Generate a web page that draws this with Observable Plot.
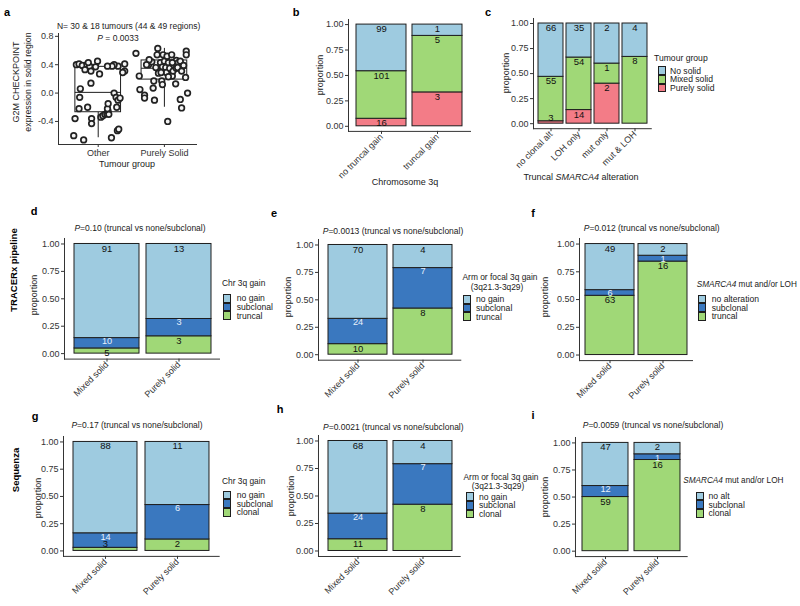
<!DOCTYPE html>
<html>
<head>
<meta charset="utf-8">
<script src="https://cdn.jsdelivr.net/npm/d3@7"></script>
<script src="https://cdn.jsdelivr.net/npm/@observablehq/plot@0.6"></script>
<style>
  html, body { margin: 0; padding: 0; background: white; }
  #chart { position: relative; width: 800px; height: 606px; overflow: hidden; background: white;
           font-family: 'Liberation Sans', Arial, sans-serif; color: #1a1a1a; }
  .t { position: absolute; white-space: nowrap; line-height: 1; }
</style>
</head>
<body>
<div id="chart"></div>
<script>
// ---------------- DATA ----------------
// Panel a: G2M checkpoint expression (jitter offset, value)
const aGroups = ["Other", "Purely Solid"];
const aOtherJitter = [-0.37,-0.22,-0.35,-0.29,-0.28,-0.27,-0.33,-0.29,-0.24,-0.17,-0.13,-0.11,-0.15,-0.01,0.02,-0.11,-0.16,-0.10,-0.10,0.04,0.07,0.10,0.13,0.15,0.14,0.15,0.16,0.20,0.24,0.27,0.28,0.30,0.33,0.29,0.31,0.40,0.40,0.37,0.30,0.24,0.21,0.14,-0.04,-0.20];
const aOtherY      = [-0.60,-0.66,-0.36,-0.22,-0.06,0.06,0.40,0.41,0.39,0.40,0.38,0.31,0.43,0.45,0.27,0.14,-0.20,-0.36,-0.43,-0.34,-0.32,-0.30,-0.29,-0.26,-0.22,-0.15,-0.30,-0.63,0.00,-0.06,-0.20,-0.10,-0.07,-0.53,-0.51,0.41,0.31,0.29,0.38,0.40,0.38,0.38,0.37,0.33];
const aSolidJitter = [-0.43,-0.38,-0.37,-0.30,-0.30,-0.24,-0.19,-0.16,-0.15,-0.13,-0.11,-0.10,-0.09,-0.06,-0.04,-0.03,-0.02,-0.03,0.00,0.02,0.03,0.04,0.05,0.06,0.08,0.11,0.12,0.13,0.14,0.18,0.18,0.21,0.20,0.24,0.24,0.26,0.26,0.29,0.32,0.33,0.33,0.35,-0.23,-0.05,-0.17,0.17,-0.27,0.06,0.12];
const aSolidY      = [0.56,0.24,0.05,-0.03,-0.07,0.40,0.44,0.17,-0.10,0.36,0.54,0.63,0.28,0.43,0.17,0.12,0.54,0.37,0.45,0.36,0.29,0.52,-0.40,0.43,0.35,0.54,0.24,0.31,0.40,0.46,0.35,0.43,0.36,0.45,-0.09,-0.21,0.31,0.39,0.22,0.59,0.54,0.00,0.47,0.29,0.07,0.13,0.40,0.23,0.43];
const aQ1 = [-0.27, 0.19];
const aMedian = [0.01, 0.35];
const aQ3 = [0.37, 0.46];
const aWhiskerLow = [-0.63, -0.20];
const aWhiskerHigh = [0.45, 0.63];

// Panel b
const bCats = ["no truncal gain", "truncal gain"];
const tumourGroups = ["Purely solid", "Mixed solid", "No solid"]; // bottom -> top
const bPurely = [16, 3];
const bMixed = [101, 5];
const bNoSolid = [99, 1];

// Panel c
const cCats = ["no clonal alt", "LOH only", "mut only", "mut & LOH"];
const cPurely = [3, 14, 2, 0];
const cMixed = [55, 54, 1, 8];
const cNoSolid = [66, 35, 2, 4];

// Panels d-i
const solidGroups = ["Mixed solid", "Purely solid"];
const gainLevelsT = ["truncal", "subclonal", "no gain"];
const gainLevelsC = ["clonal", "subclonal", "no gain"];
const smarcaLevelsT = ["truncal", "subclonal", "no alteration"];
const smarcaLevelsC = ["clonal", "subclonal", "no alt"];

const dTruncal = [5, 3],   dSubclonal = [10, 3], dNoGain = [91, 13];
const eTruncal = [10, 8],  eSubclonal = [24, 7], eNoGain = [70, 4];
const fTruncal = [63, 16], fSubclonal = [6, 1],  fNoAlt = [49, 2];
const gClonal = [3, 2],    gSubclonal = [14, 6], gNoGain = [88, 11];
const hClonal = [11, 8],   hSubclonal = [24, 7], hNoGain = [68, 4];
const iClonal = [59, 16],  iSubclonal = [12, 1], iNoAlt = [47, 2];

const propTicks = [0, 0.25, 0.5, 0.75, 1];
const aTicks = [-0.4, 0, 0.4, 0.8];

// ---------------- STYLE ----------------
const FONT = "'Liberation Sans', Arial, sans-serif";
const LIGHTBLUE = "#9ecbe0", DARKBLUE = "#3a78bf", GREEN = "#a0d877", RED = "#f37c87";
const INK = "#1e1e1e", AXIS = "#333";
const root = document.getElementById("chart");

function txt(html, x, y, o = {}) {
  const el = document.createElement("div");
  el.className = "t";
  el.innerHTML = html;
  el.style.left = x + "px";
  el.style.top = y + "px";
  el.style.fontSize = (o.size || 8.5) + "px";
  if (o.bold) el.style.fontWeight = "bold";
  el.style.color = o.color || "#1a1a1a";
  const tx = o.anchor === "start" ? "0" : "-50%";
  el.style.transform = `translate(${tx},-50%)` + (o.rotate ? ` rotate(${o.rotate}deg)` : "");
  root.appendChild(el);
}

function placeSvg(svg, left, top) {
  svg.style.position = "absolute";
  svg.style.left = left + "px";
  svg.style.top = top + "px";
  root.appendChild(svg);
}

function legend(items, keysX, firstY, labelsX) {
  const step = 8.7;
  items.forEach((it, k) => {
    const key = document.createElement("div");
    key.style.position = "absolute";
    key.style.left = keysX + "px";
    key.style.top = (firstY + k * step - step / 2) + "px";
    key.style.width = "8px";
    key.style.height = step + "px";
    key.style.boxSizing = "border-box";
    key.style.border = "1px solid " + INK;
    key.style.background = it.color;
    root.appendChild(key);
    txt(it.label, labelsX, firstY + k * step, {anchor: "start", size: 8.6});
  });
}

function barPanel(cats, levels, series, colors, fr, pad, whiteLevel) {
  const totals = cats.map((c, i) => d3.sum(series, s => s[i]));
  const rows = [];
  levels.forEach((lv, j) => cats.forEach((c, i) =>
    rows.push({cat: c, level: lv, n: series[j][i], small: series[j][i] / totals[i] < 0.04})));
  const mL = 34, mR = 2, mT = 3, mB = 70;
  const stackOpts = {x: "cat", y: "n", z: "level", order: levels, offset: "normalize"};
  const plot = Plot.plot({
    width: fr.x1 - fr.x0 + mL + mR,
    height: fr.yBot - fr.yTop + mT + mB,
    marginLeft: mL, marginRight: mR, marginTop: mT, marginBottom: mB,
    style: {background: "transparent", overflow: "visible", fontFamily: FONT, fontSize: "9px", color: AXIS},
    x: {type: "band", domain: cats, paddingInner: pad[0], paddingOuter: pad[1], label: null},
    y: {domain: [-0.05, 1.05], label: null},
    color: {domain: levels, range: colors},
    marks: [
      Plot.barY(rows, {...stackOpts, fill: "level", stroke: INK, strokeWidth: 1}),
      Plot.text(rows, Plot.stackY2({...stackOpts,
        text: d => (d.n > 0 && d.level !== whiteLevel && !d.small) ? String(d.n) : "",
        dy: 4.5, fill: "#111", fontSize: 9.5})),
      Plot.text(rows, Plot.stackY2({...stackOpts,
        text: d => (d.n > 0 && d.level !== whiteLevel && d.small) ? String(d.n) : "",
        dy: -3.5, fill: "#111", fontSize: 9.5})),
      Plot.text(rows, Plot.stackY2({...stackOpts,
        text: d => (d.n > 0 && d.level === whiteLevel) ? String(d.n) : "",
        dy: 3.3, fill: "#e8f1fb", fontSize: 9.2})),
      Plot.ruleY([-0.05], {stroke: AXIS, strokeWidth: 1}),
      Plot.frame({anchor: "left", stroke: AXIS, strokeWidth: 1}),
      Plot.axisY({ticks: propTicks, tickFormat: d => d.toFixed(2), tickSize: 3, tickPadding: 2, label: null, fill: AXIS}),
      Plot.axisX({tickRotate: -45, tickSize: 3, tickPadding: 1, label: null, fill: AXIS})
    ]
  });
  placeSvg(plot, fr.x0 - mL, fr.yTop - mT);
}

// ---------------- PANEL a ----------------
(function () {
  const pts = [];
  aOtherY.forEach((y, k) => pts.push({g: 1, jx: aOtherJitter[k], y}));
  aSolidY.forEach((y, k) => pts.push({g: 2, jx: aSolidJitter[k], y}));
  const boxes = aGroups.map((g, k) => ({i: k + 1, q1: aQ1[k], med: aMedian[k], q3: aQ3[k], lo: aWhiskerLow[k], hi: aWhiskerHigh[k]}));
  const half = 0.345;
  const fr = {x0: 58, x1: 197, yTop: 33, yBot: 144};
  const mL = 30, mR = 4, mT = 4, mB = 20;
  const plot = Plot.plot({
    width: fr.x1 - fr.x0 + mL + mR,
    height: fr.yBot - fr.yTop + mT + mB,
    marginLeft: mL, marginRight: mR, marginTop: mT, marginBottom: mB,
    style: {background: "transparent", overflow: "visible", fontFamily: FONT, fontSize: "9px", color: AXIS},
    x: {domain: [0.4, 2.5], label: null},
    y: {domain: [-0.725, 0.84], label: null},
    marks: [
      Plot.ruleX(boxes, {x: "i", y1: "lo", y2: "q1", stroke: INK}),
      Plot.ruleX(boxes, {x: "i", y1: "q3", y2: "hi", stroke: INK}),
      Plot.rect(boxes, {x1: d => d.i - half, x2: d => d.i + half, y1: "q1", y2: "q3", fill: "white", stroke: INK, strokeWidth: 1}),
      Plot.ruleY(boxes, {x1: d => d.i - half, x2: d => d.i + half, y: "med", stroke: INK, strokeWidth: 1}),
      Plot.dot(pts, {x: d => d.g + d.jx, y: "y", r: 2.8, stroke: "#222", strokeWidth: 1.7, fill: "#f4f4f4"}),
      Plot.ruleY([-0.725], {stroke: AXIS}),
      Plot.frame({anchor: "left", stroke: AXIS}),
      Plot.axisY({ticks: aTicks, tickFormat: d => d.toFixed(1), tickSize: 3, tickPadding: 2, label: null, fill: AXIS}),
      Plot.axisX({ticks: [1, 2], tickFormat: d => aGroups[d - 1], tickSize: 3, tickPadding: 2, label: null, fill: AXIS})
    ]
  });
  placeSvg(plot, fr.x0 - mL, fr.yTop - mT);
})();

// ---------------- PANELS b-i ----------------
barPanel(bCats, tumourGroups, [bPurely, bMixed, bNoSolid], [RED, GREEN, LIGHTBLUE],
  {x0: 348, x1: 471, yTop: 18.9, yBot: 130.8}, [0.1, 0.135], null);
barPanel(cCats, tumourGroups, [cPurely, cMixed, cNoSolid], [RED, GREEN, LIGHTBLUE],
  {x0: 532.7, x1: 651.5, yTop: 17.6, yBot: 127.8}, [0.1, 0.15], null);
barPanel(solidGroups, gainLevelsT, [dTruncal, dSubclonal, dNoGain], [GREEN, DARKBLUE, LIGHTBLUE],
  {x0: 64, x1: 220, yTop: 238.2, yBot: 358.8}, [0.1, 0.133], "subclonal");
barPanel(solidGroups, gainLevelsT, [eTruncal, eSubclonal, eNoGain], [GREEN, DARKBLUE, LIGHTBLUE],
  {x0: 317.7, x1: 461, yTop: 238.8, yBot: 359.5}, [0.1, 0.15], "subclonal");
barPanel(solidGroups, smarcaLevelsT, [fTruncal, fSubclonal, fNoAlt], [GREEN, DARKBLUE, LIGHTBLUE],
  {x0: 579, x1: 693, yTop: 237.8, yBot: 359.9}, [0.08, 0.11], "subclonal");
barPanel(solidGroups, gainLevelsC, [gClonal, gSubclonal, gNoGain], [GREEN, DARKBLUE, LIGHTBLUE],
  {x0: 63.3, x1: 220, yTop: 436.3, yBot: 556.2}, [0.115, 0.135], "subclonal");
barPanel(solidGroups, gainLevelsC, [hClonal, hSubclonal, hNoGain], [GREEN, DARKBLUE, LIGHTBLUE],
  {x0: 318.3, x1: 461, yTop: 435.2, yBot: 556.2}, [0.1, 0.14], "subclonal");
barPanel(solidGroups, smarcaLevelsC, [iClonal, iSubclonal, iNoAlt], [GREEN, DARKBLUE, LIGHTBLUE],
  {x0: 575, x1: 687.7, yTop: 437.3, yBot: 556.4}, [0.11, 0.125], "subclonal");

// ---------------- TEXT ----------------
const L = {size: 11, bold: true, color: "#000"};
txt("a", 7, 12, L); txt("b", 296, 12, L); txt("c", 488, 12, L);
txt("d", 34, 210.5, L); txt("e", 274, 212.5, L); txt("f", 533, 213, L);
txt("g", 35, 415.5, L); txt("h", 280, 409, L); txt("i", 533, 415, L);

txt("TRACERx pipeline", 14, 270, {size: 9.5, bold: true, rotate: -90, color: "#000"});
txt("Sequenza", 16, 470, {size: 9.5, bold: true, rotate: -90, color: "#000"});

// panel a
txt("N= 30 &amp; 18 tumours (44 &amp; 49 regions)", 128.6, 26, {size: 8.5});
txt("<i>P</i> = 0.0033", 118, 37.7, {size: 8.5});
txt("G2M CHECKPOINT", 16, 82, {size: 9, rotate: -90});
txt("expression in solid region", 28, 82, {size: 8.8, rotate: -90});
txt("Tumour group", 127, 164, {size: 9});

// panel b, c
txt("proportion", 320, 75, {size: 9, rotate: -90});
txt("Chromosome 3q", 405, 182, {size: 9});
txt("proportion", 506, 72.7, {size: 9, rotate: -90});
txt("Truncal <i>SMARCA4</i> alteration", 581, 176.5, {size: 9});
txt("Tumour group", 654, 57.7, {size: 8.6, anchor: "start"});
legend([{label: "No solid", color: LIGHTBLUE}, {label: "Mixed solid", color: GREEN}, {label: "Purely solid", color: RED}], 658, 70.7, 670);

// panel d
txt("<i>P</i>=0.10 (truncal vs none/subclonal)", 140, 227.7);
txt("proportion", 33.5, 295, {size: 9, rotate: -90});
txt("Chr 3q gain", 222, 283.3, {size: 8.4, anchor: "start"});
legend([{label: "no gain", color: LIGHTBLUE}, {label: "subclonal", color: DARKBLUE}, {label: "truncal", color: GREEN}], 223.3, 298.3, 236.7);

// panel e
txt("<i>P</i>=0.0013 (truncal vs none/subclonal)", 393, 230.7);
txt("proportion", 288.3, 297, {size: 9, rotate: -90});
txt("Arm or focal 3q gain", 500, 277.3, {size: 8.4});
txt("(3q21.3-3q29)", 497, 287.3, {size: 8.4});
legend([{label: "no gain", color: LIGHTBLUE}, {label: "subclonal", color: DARKBLUE}, {label: "truncal", color: GREEN}], 463, 299.3, 476);

// panel f
txt("<i>P</i>=0.012 (truncal vs none/subclonal)", 651.7, 228.3);
txt("proportion", 545, 297, {size: 9, rotate: -90});
txt("<i>SMARCA4</i> mut and/or LOH", 696.7, 285, {size: 8.2, anchor: "start"});
legend([{label: "no alteration", color: LIGHTBLUE}, {label: "subclonal", color: DARKBLUE}, {label: "truncal", color: GREEN}], 698.3, 299, 711.7);

// panel g
txt("<i>P</i>=0.17 (truncal vs none/subclonal)", 137, 425);
txt("proportion", 37.5, 498, {size: 9, rotate: -90});
txt("Chr 3q gain", 222, 480.7, {size: 8.4, anchor: "start"});
legend([{label: "no gain", color: LIGHTBLUE}, {label: "subclonal", color: DARKBLUE}, {label: "clonal", color: GREEN}], 223.3, 495, 236.7);

// panel h
txt("<i>P</i>=0.0021 (truncal vs none/subclonal)", 393.3, 426.7);
txt("proportion", 291, 496, {size: 9, rotate: -90});
txt("Arm or focal 3q gain", 501, 476.7, {size: 8.4});
txt("(3q21.3-3q29)", 498, 486, {size: 8.4});
legend([{label: "no gain", color: LIGHTBLUE}, {label: "subclonal", color: DARKBLUE}, {label: "clonal", color: GREEN}], 466, 496.7, 479);

// panel i
txt("<i>P</i>=0.0059 (truncal vs none/subclonal)", 653, 425);
txt("proportion", 545, 497, {size: 9, rotate: -90});
txt("<i>SMARCA4</i> mut and/or LOH", 683.3, 481, {size: 8.2, anchor: "start"});
legend([{label: "no alt", color: LIGHTBLUE}, {label: "subclonal", color: DARKBLUE}, {label: "clonal", color: GREEN}], 695.7, 496, 708.5);
</script>
</body>
</html>
